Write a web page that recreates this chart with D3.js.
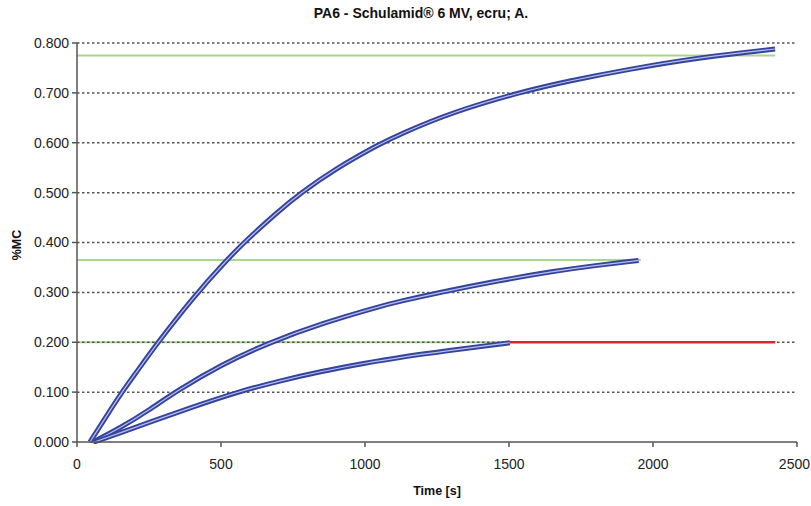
<!DOCTYPE html>
<html><head><meta charset="utf-8">
<script src="https://cdn.jsdelivr.net/npm/d3@7/dist/d3.min.js"></script>
<style>body{margin:0;background:#fff}svg{display:block}</style>
</head><body>
<svg id="c" width="811" height="506"></svg>
<script>
const title = "PA6 - Schulamid\u00ae 6 MV, ecru; A.";
const xLabel = "Time [s]";
const yLabel = "%MC";
const xTicks = [0, 500, 1000, 1500, 2000, 2500];
const yTicks = [0, 0.1, 0.2, 0.3, 0.4, 0.5, 0.6, 0.7, 0.8];

// Group 1 (top curves)
const g1Time  = [45, 100, 156, 200, 281, 400, 520, 583, 700, 774, 900, 1052, 1121, 1300, 1549, 1700, 1920, 2163, 2424];
const g1Value = [0, 0.05, 0.10, 0.135, 0.20, 0.288, 0.365, 0.402, 0.463, 0.498, 0.549, 0.598, 0.617, 0.661, 0.703, 0.723, 0.748, 0.771, 0.788];
// Group 2 (middle curves)
const g2Time  = [55, 150, 253, 340, 500, 670, 850, 1052, 1121, 1260, 1450, 1650, 1800, 1950];
const g2Value = [0, 0.028, 0.065, 0.10, 0.155, 0.20, 0.238, 0.272, 0.282, 0.30, 0.322, 0.342, 0.354, 0.364];
// Group 3 (bottom curves)
const g3Time  = [60, 150, 253, 400, 555, 700, 850, 1000, 1121, 1300, 1434, 1503];
const g3Value = [0, 0.018, 0.04, 0.07, 0.10, 0.122, 0.142, 0.158, 0.170, 0.184, 0.194, 0.199];

// reference levels
const greenLevels = [0.775, 0.365, 0.2];
const greenEnds   = [2424, 1958, 1500];
const redLevel = 0.2, redStart = 1500, redEnd = 2424;

const svg = d3.select("#c");
const x = d3.scaleLinear().domain([0, 2500]).range([77, 797]);
const y = d3.scaleLinear().domain([0, 0.8]).range([442, 43]);
const font = "'Liberation Sans', Arial, sans-serif";

// green reference lines (under grid)
greenLevels.forEach((lv, i) => {
  svg.append("line").attr("x1", x(0)).attr("x2", x(greenEnds[i]))
    .attr("y1", y(lv)).attr("y2", y(lv))
    .attr("stroke", "#a9d68d").attr("stroke-width", 2);
});

// grid
svg.append("g").selectAll("line").data(yTicks.filter(d => d > 0)).join("line")
  .attr("x1", x(0)).attr("x2", x(2500))
  .attr("y1", d => y(d)).attr("y2", d => y(d))
  .attr("stroke", "#555").attr("stroke-width", 1.5).attr("stroke-dasharray", "2.5,2.5");

// red line
svg.append("line").attr("x1", x(redStart)).attr("x2", x(redEnd))
  .attr("y1", y(redLevel)).attr("y2", y(redLevel))
  .attr("stroke", "#e5222a").attr("stroke-width", 2.5);

// curves
const line = d3.line().x(d => x(d[0])).y(d => y(d[1])).curve(d3.curveBasis);
const groups = [
  {t: g1Time, v: g1Value},
  {t: g2Time, v: g2Value},
  {t: g3Time, v: g3Value}
];
groups.forEach(g => {
  const pts = g.t.map((t, i) => [t, g.v[i]]);
  svg.append("path").attr("d", line(pts)).attr("fill", "none")
    .attr("stroke", "#3443a0").attr("stroke-width", 5).attr("stroke-linejoin", "round");
  svg.append("path").attr("d", line(pts)).attr("fill", "none")
    .attr("stroke", "#b9bfe4").attr("stroke-width", 1.2);
});

// axes
const ax = "#555";
svg.append("line").attr("x1", x(0)).attr("x2", x(0)).attr("y1", y(0.8)).attr("y2", y(0)).attr("stroke", ax).attr("stroke-width", 1.5);
svg.append("line").attr("x1", x(0)).attr("x2", x(2500)).attr("y1", y(0)).attr("y2", y(0)).attr("stroke", ax).attr("stroke-width", 1.5);
svg.append("g").selectAll("line").data(yTicks).join("line")
  .attr("x1", x(0) - 5).attr("x2", x(0)).attr("y1", d => y(d)).attr("y2", d => y(d))
  .attr("stroke", ax).attr("stroke-width", 1.5);
svg.append("g").selectAll("line").data(xTicks).join("line")
  .attr("x1", d => x(d)).attr("x2", d => x(d)).attr("y1", y(0)).attr("y2", y(0) + 5)
  .attr("stroke", ax).attr("stroke-width", 1.5);

svg.append("g").selectAll("text").data(yTicks).join("text")
  .attr("x", 69).attr("y", d => y(d)).attr("dy", "0.35em")
  .attr("text-anchor", "end").attr("font-family", font).attr("font-size", 14)
  .attr("fill", "#222").text(d => d3.format(".3f")(d));
svg.append("g").selectAll("text").data(xTicks).join("text")
  .attr("x", d => d === 2500 ? 810 : x(d)).attr("y", 464).attr("dy", "0.35em")
  .attr("text-anchor", d => d === 2500 ? "end" : "middle").attr("font-family", font).attr("font-size", 14)
  .attr("fill", "#222").text(d => d);

svg.append("text").attr("x", 421).attr("y", 13).attr("dy", "0.35em")
  .attr("text-anchor", "middle").attr("font-family", font).attr("font-weight", "bold")
  .attr("font-size", 14).attr("fill", "#111").text(title);
svg.append("text").attr("x", 437).attr("y", 491).attr("dy", "0.35em")
  .attr("text-anchor", "middle").attr("font-family", font).attr("font-weight", "bold")
  .attr("font-size", 12.5).attr("fill", "#111").text(xLabel);
svg.append("text").attr("transform", "translate(17,245) rotate(-90)").attr("dy", "0.35em")
  .attr("text-anchor", "middle").attr("font-family", font).attr("font-weight", "bold")
  .attr("font-size", 12.5).attr("fill", "#111").text(yLabel);
</script>
</body></html>
